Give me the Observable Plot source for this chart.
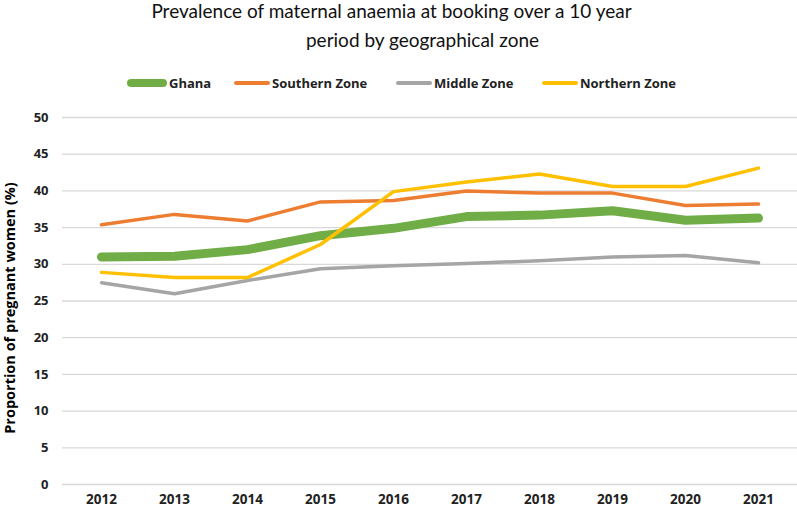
<!DOCTYPE html>
<html>
<head>
<meta charset="utf-8">
<script src="https://cdn.jsdelivr.net/npm/d3@7"></script>
<script src="https://cdn.jsdelivr.net/npm/@observablehq/plot@0.6"></script>
<style>
  body { margin: 0; background: #fff; }
  #wrap { position: relative; width: 797px; height: 514px; font-family: "Open Sans", "Noto Sans", sans-serif; color: #000; }
  .title { position: absolute; left: 0; width: 797px; text-align: center; font-family: Lato, "Noto Sans", sans-serif; font-size: 19px; white-space: nowrap; line-height: 24px; color: #111; }
  #legend { position: absolute; top: 73px; left: 0; width: 797px; height: 20px; font-size: 13px; font-weight: bold; color: #222; }
  .item { position: absolute; top: 0; display: flex; align-items: center; height: 20px; }
  .sw { display: inline-block; border-radius: 4px; margin-right: 2px; }
  #chart { position: absolute; left: 0; top: 100px; }
</style>
</head>
<body>
<div id="wrap">
  <div class="title" id="t1" style="top:-1px; left:-7px;">Prevalence of maternal anaemia at booking over a 10 year</div>
  <div class="title" id="t2" style="top:28px; left:24px;">period by geographical zone</div>
  <div id="legend"></div>
  <div id="chart"></div>
</div>
<script>
const years = ["2012","2013","2014","2015","2016","2017","2018","2019","2020","2021"];
const seriesNames = ["Ghana", "Southern Zone", "Middle Zone", "Northern Zone"];
const ghana    = [31.0, 31.1, 32.0, 33.9, 34.9, 36.5, 36.7, 37.3, 36.0, 36.3];
const southern = [35.4, 36.8, 35.9, 38.5, 38.7, 40.0, 39.7, 39.7, 38.0, 38.2];
const middle   = [27.5, 26.0, 27.8, 29.4, 29.8, 30.1, 30.5, 31.0, 31.2, 30.2];
const northern = [28.9, 28.2, 28.2, 32.7, 39.9, 41.2, 42.3, 40.6, 40.6, 43.1];
const yTicks = [0, 5, 10, 15, 20, 25, 30, 35, 40, 45, 50];
const yLabel = "Proportion of pregnant women (%)";

const colors = {"Ghana": "#70AD47", "Southern Zone": "#ED7D31", "Middle Zone": "#A5A5A5", "Northern Zone": "#FFC000"};
const widths = {"Ghana": 9, "Southern Zone": 3.5, "Middle Zone": 3.5, "Northern Zone": 3.5};
const values = [ghana, southern, middle, northern];

const rows = [];
seriesNames.forEach((s, i) => years.forEach((y, j) => rows.push({series: s, year: y, value: values[i][j]})));

const lineMarks = seriesNames.map(s => Plot.line(rows.filter(r => r.series === s), {
  x: "year", y: "value", stroke: colors[s], strokeWidth: widths[s], strokeLinecap: "round", strokeLinejoin: "round"
}));

const plot = Plot.plot({
  width: 797,
  height: 414,
  marginLeft: 62,
  marginRight: 0,
  marginTop: 17,
  marginBottom: 30,
  style: {fontFamily: "'Open Sans', 'Noto Sans', sans-serif", background: "#fff"},
  x: {type: "point", domain: years, padding: 0.5, label: null},
  y: {domain: [0, 50], ticks: yTicks, label: null},
  marks: [
    Plot.gridY(yTicks, {stroke: "#d9d9d9", strokeOpacity: 1, strokeWidth: 1.3}),
    Plot.axisY(yTicks, {tickSize: 0, tickPadding: 14, fontSize: 13, fontWeight: "bold", fill: "#222", label: null}),
    Plot.axisX(years, {tickSize: 0, tickPadding: 10, fontSize: 13.5, fontWeight: "bold", fill: "#222", label: null}),
    ...lineMarks,
    Plot.text([yLabel], {frameAnchor: "left", textAnchor: "middle", rotate: -90, dx: -52, dy: 7, fontSize: 14.5, fontWeight: "bold", fill: "#000"})
  ]
});
document.getElementById("chart").appendChild(plot);

const legendPos = [127, 234, 396, 542];
const legend = document.getElementById("legend");
seriesNames.forEach((s, i) => {
  const it = document.createElement("div");
  it.className = "item";
  it.style.left = legendPos[i] + "px";
  const sw = document.createElement("span");
  sw.className = "sw";
  sw.style.background = colors[s];
  sw.style.height = (s === "Ghana" ? 8 : 4) + "px";
  sw.style.width = (s === "Ghana" ? 40 : 36) + "px";
  it.appendChild(sw);
  const lb = document.createElement("span");
  lb.textContent = s;
  it.appendChild(lb);
  legend.appendChild(it);
});
</script>
</body>
</html>
